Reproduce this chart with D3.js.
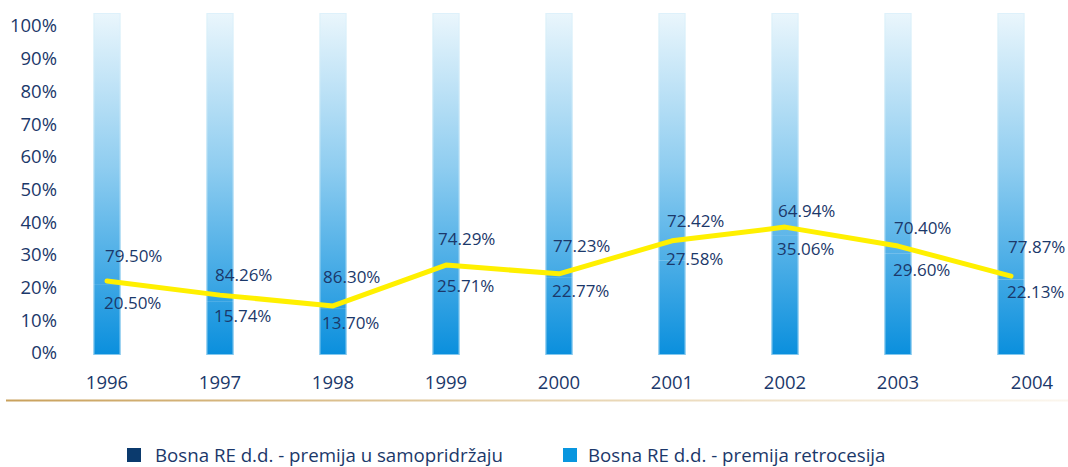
<!DOCTYPE html>
<html>
<head>
<meta charset="utf-8">
<script src="https://cdn.jsdelivr.net/npm/d3@7"></script>
<style>
    body { margin: 0; background: #fff; }
    svg text { font-family: "Open Sans", sans-serif; fill: #1b386a; }
</style>
</head>
<body>
<svg id="vis" width="1068" height="467"></svg>
<script>
const years = ["1996", "1997", "1998", "1999", "2000", "2001", "2002", "2003", "2004"];
// premija u samopridrzaju (upper label) and premija retrocesija (lower label)
const samoValues = [79.50, 84.26, 86.30, 74.29, 77.23, 72.42, 64.94, 70.40, 77.87];
const retroValues = [20.50, 15.74, 13.70, 25.71, 22.77, 27.58, 35.06, 29.60, 22.13];
// the yellow line (it sits a bit above the retro values)
const lineValues = [22.0, 17.7, 14.4, 26.9, 24.2, 34.3, 38.5, 32.7, 23.5];
const yTicks = [0, 10, 20, 30, 40, 50, 60, 70, 80, 90, 100];
const legendNames = ["Bosna RE d.d. - premija u samopridržaju", "Bosna RE d.d. - premija retrocesija"];
const legendColors = ["#0b3a6d", "#0996df"];

const svg = d3.select("#vis");
const xscale = d3.scalePoint().domain(years).range([107, 1011]);
const yscale = d3.scaleLinear().domain([0, 100]).range([353, 26]);
const barscale = d3.scaleLinear().domain([0, 100]).range([355, 13]);

const BAR_W = 27;
// the labels are not set exactly the same distance from the line, small nudges (px)
const TOP_NUDGE = [-3, 2, -7, -4, -6, 2, 6, 4, -7];
const BOT_NUDGE = [0, -1, -5, -1, -5, -4, 0, 2, -6];
const LABEL_DX = [-2, -5, -10, -8, -6, -5, -7, -4, -3];

function main() {
    makeGradients();
    drawAxis();
    drawBars();
    drawLine();
    drawLabels();
    drawLegend();
}

function makeGradients() {
    const defs = svg.append("defs");
    const g = defs.append("linearGradient")
        .attr("id", "barGrad")
        .attr("gradientUnits", "userSpaceOnUse")
        .attr("x1", 0).attr("x2", 0)
        .attr("y1", barscale(100)).attr("y2", barscale(0));
    g.append("stop").attr("offset", 0).attr("stop-color", "#eaf6fc");
    g.append("stop").attr("offset", 0.45).attr("stop-color", "#8fcdf0");
    g.append("stop").attr("offset", 1).attr("stop-color", "#0a8fdd");

    const s = defs.append("linearGradient").attr("id", "sepGrad");
    s.append("stop").attr("offset", 0).attr("stop-color", "#c9a15c");
    s.append("stop").attr("offset", 0.5).attr("stop-color", "#e6d2ad");
    s.append("stop").attr("offset", 1).attr("stop-color", "#fbf6ee");
}

function drawAxis() {
    svg.selectAll(".ytick").data(yTicks).join("text")
        .attr("class", "ytick")
        .attr("x", 57)
        .attr("y", d => yscale(d))
        .attr("dy", "0.35em")
        .attr("text-anchor", "end")
        .style("font-size", "18.5px")
        .text(d => d + "%");

    svg.selectAll(".year").data(years).join("text")
        .attr("class", "year")
        .attr("x", d => xscale(d) + (d === "2004" ? 21 : 0))
        .attr("y", 383)
        .attr("dy", "0.35em")
        .attr("text-anchor", "middle")
        .style("font-size", "18.5px")
        .text(d => d);

    svg.append("rect")
        .attr("x", 6).attr("y", 399.5)
        .attr("width", 1062).attr("height", 2)
        .attr("fill", "url(#sepGrad)");
}

function drawBars() {
    const stacks = years.map((y, i) => ({ year: y, lo: 0, hi: retroValues[i] }))
        .concat(years.map((y, i) => ({ year: y, lo: retroValues[i], hi: retroValues[i] + samoValues[i] })));

    svg.selectAll(".bar").data(stacks).join("rect")
        .attr("class", "bar")
        .attr("x", d => xscale(d.year) - BAR_W / 2)
        .attr("width", BAR_W)
        .attr("y", d => barscale(d.hi))
        .attr("height", d => barscale(d.lo) - barscale(d.hi))
        .attr("fill", "url(#barGrad)");

    // soft pale edge around each column
    svg.selectAll(".edge").data(years).join("rect")
        .attr("class", "edge")
        .attr("x", d => xscale(d) - BAR_W / 2 + 0.5)
        .attr("width", BAR_W - 1)
        .attr("y", barscale(100) + 0.5)
        .attr("height", barscale(0) - barscale(100) - 1)
        .attr("fill", "none")
        .attr("stroke", "#d6eefa")
        .attr("stroke-opacity", 0.6);
}

function drawLine() {
    const line = d3.line()
        .x((d, i) => xscale(years[i]))
        .y(d => yscale(d));
    svg.append("path")
        .datum(lineValues)
        .attr("d", line)
        .attr("fill", "none")
        .attr("stroke", "#fff000")
        .attr("stroke-width", 5)
        .attr("stroke-linecap", "round")
        .attr("stroke-linejoin", "round");
}

function drawLabels() {
    svg.selectAll(".top-label").data(years).join("text")
        .attr("class", "top-label")
        .attr("x", (d, i) => xscale(d) + LABEL_DX[i])
        .attr("y", (d, i) => yscale(lineValues[i]) - 22 + TOP_NUDGE[i])
        .attr("dy", "0.35em")
        .style("font-size", "17px")
        .text((d, i) => samoValues[i].toFixed(2) + "%");

    svg.selectAll(".bot-label").data(years).join("text")
        .attr("class", "bot-label")
        .attr("x", (d, i) => xscale(d) + LABEL_DX[i] - 1)
        .attr("y", (d, i) => yscale(lineValues[i]) + 22 + BOT_NUDGE[i])
        .attr("dy", "0.35em")
        .style("font-size", "17px")
        .text((d, i) => retroValues[i].toFixed(2) + "%");
}

function drawLegend() {
    const xs = [127, 563];
    const items = svg.selectAll(".legend").data(legendNames).join("g")
        .attr("class", "legend")
        .attr("transform", (d, i) => `translate(${xs[i]},448)`);
    items.append("rect")
        .attr("width", 14).attr("height", 14)
        .attr("fill", (d, i) => legendColors[i]);
    items.append("text")
        .attr("x", (d, i) => i === 0 ? 28 : 25)
        .attr("y", 7)
        .attr("dy", "0.35em")
        .style("font-size", "18.7px")
        .text(d => d);
}

main();
</script>
</body>
</html>
